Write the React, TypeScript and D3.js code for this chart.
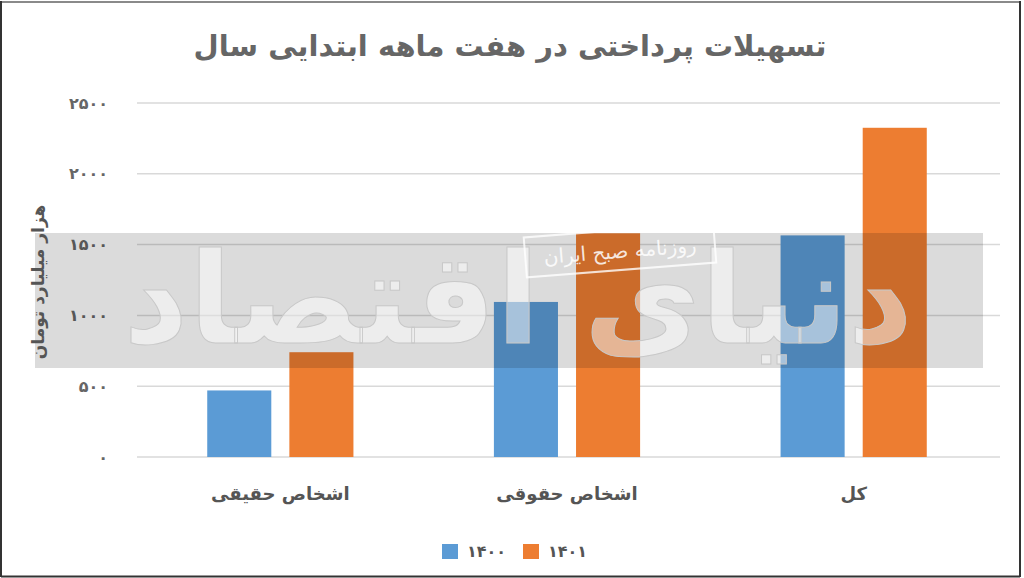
import React from "react";
import * as d3 from "d3";

const categories = ["اشخاص حقیقی", "اشخاص حقوقی", "کل"];
const seriesNames = ["1400", "1401"];
const values1400 = [470, 1095, 1565];
const values1401 = [740, 1580, 2325];
const tickValues = [0, 500, 1000, 1500, 2000, 2500];
const colors = ["#5b9bd5", "#ed7d31"];

const title = "تسهیلات پرداختی در هفت ماهه ابتدایی سال";
const yLabel = "هزار میلیارد تومان";
const watermark = "دنیای اقتصاد";
const watermarkSmall = "روزنامه صبح ایران";

const toFa = (v: number | string) =>
  String(v).replace(/[0-9]/g, (d) => "۰۱۲۳۴۵۶۷۸۹"[+d]);

const W = 1024;
const H = 578;
const FONT = "'DejaVu Sans', sans-serif";

export default function App() {
  const left = 137;
  const right = 997;
  const y = d3.scaleLinear().domain([0, 2500]).range([457, 103]);
  const x0 = d3
    .scaleBand<string>()
    .domain(categories)
    .range([left, right])
    .paddingInner(0.49)
    .paddingOuter(0.245);
  const x1 = d3
    .scaleBand<string>()
    .domain(seriesNames)
    .range([0, x0.bandwidth()])
    .paddingInner(0.22);
  const series = [values1400, values1401];

  return (
    <svg
      width={W}
      height={H}
      style={{ position: "absolute", left: 0, top: 0, background: "#fff" }}
      fontFamily={FONT}
    >
      <rect x={0} y={0} width={W} height={H} fill="#fff" />
      {/* frame */}
      <line x1={1} y1={2} x2={1020} y2={2} stroke="#8a8a8a" strokeWidth={2} />
      <line x1={1} y1={1} x2={1} y2={577} stroke="#333" strokeWidth={2} />
      <line x1={1020} y1={1} x2={1020} y2={577} stroke="#333" strokeWidth={2} />
      <line x1={1} y1={576.5} x2={1020} y2={576.5} stroke="#333" strokeWidth={2} />

      {/* title */}
      <text
        x={510}
        y={56}
        textAnchor="middle"
        fontSize={29}
        fontWeight="bold"
        fill="#666"
        direction="rtl"
      >
        {title}
      </text>

      {/* gridlines */}
      {tickValues.map((t) => (
        <line
          key={t}
          x1={left}
          x2={1000}
          y1={y(t)}
          y2={y(t)}
          stroke="#d9d9d9"
          strokeWidth={1.5}
        />
      ))}
      {/* tick labels */}
      {tickValues.map((t) => (
        <text
          key={"l" + t}
          x={108}
          y={y(t)}
          dy="0.35em"
          textAnchor="end"
          fontSize={16}
          fontWeight="bold"
          fill="#666"
        >
          {toFa(t)}
        </text>
      ))}

      {/* bars */}
      {categories.map((c, i) => (
        <g key={c} transform={`translate(${x0(c)},0)`}>
          {seriesNames.map((s, j) => (
            <rect
              key={s}
              x={x1(s)}
              y={y(series[j][i])}
              width={x1.bandwidth()}
              height={y(0) - y(series[j][i])}
              fill={colors[j]}
            />
          ))}
        </g>
      ))}

      {/* watermark band */}
      <rect x={35} y={233} width={948} height={135} fill="#000" opacity={0.14} />
      <text
        x={518}
        y={343}
        textAnchor="middle"
        fontSize={127}
        fontWeight="bold"
        fill="#fff"
        fillOpacity={0.5}
        stroke="#c8c8c8"
        strokeWidth={1}
        direction="rtl"
      >
        {watermark}
      </text>
      <g transform="translate(620,250) rotate(-4.5)">
        <rect
          x={-95}
          y={-20}
          width={190}
          height={40}
          fill="none"
          stroke="#fff"
          strokeOpacity={0.8}
          strokeWidth={2}
        />
        <text
          x={0}
          y={8}
          textAnchor="middle"
          fontSize={20}
          fill="#fff"
          fillOpacity={0.85}
          direction="rtl"
        >
          {watermarkSmall}
        </text>
      </g>

      {/* y label */}
      <text
        transform="translate(38,282) rotate(-90)"
        textAnchor="middle"
        dy="0.35em"
        fontSize={17}
        fontWeight="bold"
        fill="#555"
        direction="rtl"
      >
        {yLabel}
      </text>

      {/* category labels */}
      {categories.map((c) => (
        <text
          key={"c" + c}
          x={(x0(c) as number) + x0.bandwidth() / 2}
          y={500}
          textAnchor="middle"
          fontSize={18}
          fontWeight="bold"
          fill="#555"
          direction="rtl"
        >
          {c}
        </text>
      ))}

      {/* legend */}
      {seriesNames.map((s, j) => (
        <g key={"lg" + s} transform={`translate(${442 + j * 81},544)`}>
          <rect width={16} height={15} fill={colors[j]} />
          <text x={25} y={7.5} dy="0.35em" fontSize={16} fontWeight="bold" fill="#555">
            {toFa(s)}
          </text>
        </g>
      ))}
    </svg>
  );
}
